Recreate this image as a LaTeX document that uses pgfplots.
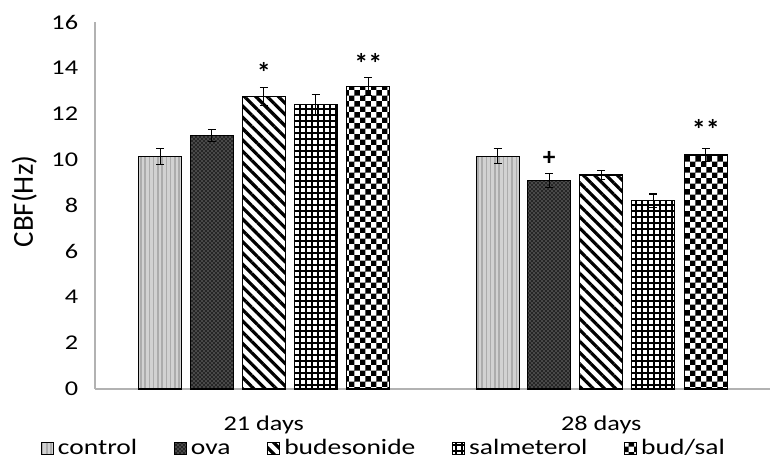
\documentclass[border=0pt]{standalone}
\usepackage{graphicx}
\usepackage{fontspec}
\setmainfont{Carlito}[FakeStretch=1.25]
\newfontfamily\ylab{Carlito}
\usepackage{pgfplots}
\pgfplotsset{compat=1.18}
\usetikzlibrary{patterns,patterns.meta}

\pgfdeclarepatternformonly{checks}{\pgfqpoint{0pt}{0pt}}{\pgfqpoint{8.2pt}{8.2pt}}{\pgfqpoint{8.2pt}{8.2pt}}{%
  \pgfpathrectangle{\pgfqpoint{0pt}{0pt}}{\pgfqpoint{4.1pt}{4.1pt}}%
  \pgfpathrectangle{\pgfqpoint{4.1pt}{4.1pt}}{\pgfqpoint{4.1pt}{4.1pt}}%
  \pgfusepath{fill}}

\pgfplotsset{
  mybar/.style={ybar, bar shift=0pt, bar width=0.127, draw=black, line width=0.8pt,
    legend image code/.code={\draw[##1] (0pt,-4.5pt) rectangle (9pt,4.5pt);}},
}

\begin{document}
\fontsize{15.75}{18}\selectfont
\begin{tikzpicture}
\path[use as bounding box] (-71.25pt,-55.5pt) rectangle (506.25pt,291.75pt);
\begin{axis}[
  scale only axis, width=506.25pt, height=275.25pt,
  xmin=-0.5, xmax=1.5, ymin=0, ymax=16,
  ytick={0,2,...,16},
  xtick={0,1}, xticklabels={21 days,28 days},
  axis lines=left,
  axis line style={-, draw=gray!60, line width=1.1pt},
  major tick length=0pt,
  tick style={draw=none},
  /pgf/number format/assume math mode=true,
  tick label style={font=\fontsize{15.75}{18}\selectfont, inner sep=0pt},
  yticklabel style={anchor=east, xshift=-12.5pt},
  xticklabel style={anchor=north, yshift=-20pt},
  ylabel={\scalebox{1.38}{\ylab CBF(Hz)}},
  ylabel style={at={(axis description cs:0,0.5)}, anchor=center, yshift=53pt, xshift=3pt},
  clip=false,
  legend columns=5,
  legend style={draw=none, fill=none, font=\fontsize{16.5}{18}\selectfont,
    at={(axis description cs:0.428,-0.161)}, anchor=center,
    nodes={inner xsep=1.5pt, text height=11pt, text depth=1pt},
    /tikz/every even column/.append style={column sep=26pt},
    /tikz/every odd column/.append style={column sep=1.5pt}},
]
\addplot[mybar, fill=gray!35, postaction={pattern={Lines[angle=90,distance=3.2pt,line width=1.1pt]}, pattern color=gray!65}]
  coordinates {(-0.307,10.15) (0.693,10.15)};
\addlegendentry{control}
\addplot[mybar, fill=black!85, postaction={pattern=crosshatch dots, pattern color=gray!50}]
  coordinates {(-0.154,11.05) (0.846,9.1)};
\addlegendentry{ova}
\addplot[mybar, fill=white, postaction={pattern={Lines[angle=-45,distance=6pt,line width=2.4pt]}, pattern color=black}]
  coordinates {(0,12.75) (1,9.33)};
\addlegendentry{budesonide}
\addplot[mybar, fill=white, postaction={pattern={Hatch[angle=0,distance=4.5pt,line width=1.1pt]}, pattern color=black}]
  coordinates {(0.154,12.4) (1.154,8.2)};
\addlegendentry{salmeterol}
\addplot[mybar, fill=white, postaction={pattern=checks, pattern color=black}]
  coordinates {(0.31,13.2) (1.31,10.2)};
\addlegendentry{bud/sal}
% error bars
\addplot[draw=none, mark=none, forget plot,
  error bars/.cd, y dir=both, y explicit,
  error bar style={line width=0.8pt, black},
  error mark options={rotate=90, mark size=3pt, line width=0.8pt, black}]
  coordinates {
  (-0.307,10.15) +- (0,0.35)
  (-0.154,11.05) +- (0,0.25)
  (0,12.75) +- (0,0.4)
  (0.154,12.4) +- (0,0.45)
  (0.31,13.2) +- (0,0.4)
  (0.693,10.15) +- (0,0.32)
  (0.846,9.1) +- (0,0.3)
  (1,9.33) +- (0,0.2)
  (1.154,8.2) +- (0,0.3)
  (1.31,10.2) +- (0,0.3)
  };
\node[font=\ylab\bfseries\fontsize{21}{22}\selectfont, anchor=center] at (axis cs:0,13.8) {*};
\node[font=\ylab\bfseries\fontsize{21}{22}\selectfont, anchor=center] at (axis cs:0.31,14.18) {**};
\node[font=\ylab\bfseries\fontsize{19}{20}\selectfont, anchor=center] at (axis cs:0.846,10.05) {+};
\node[font=\ylab\bfseries\fontsize{21}{22}\selectfont, anchor=center] at (axis cs:1.31,11.3) {**};
\end{axis}
\end{tikzpicture}
\end{document}
